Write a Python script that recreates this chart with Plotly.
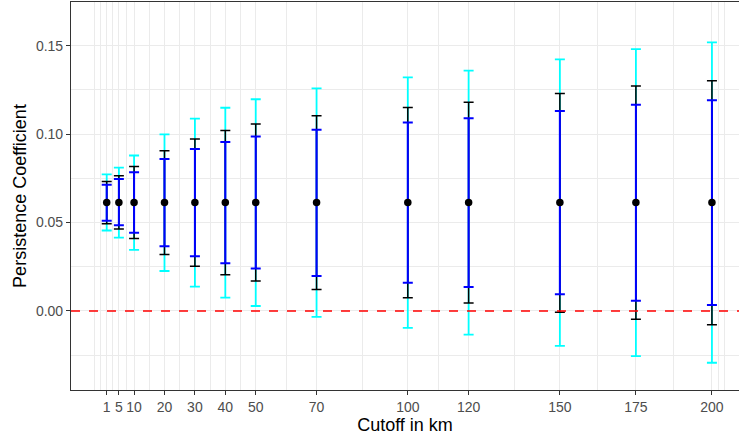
import plotly.graph_objects as go

cutoff_km = [1, 5, 10, 20, 30, 40, 50, 70, 100, 120, 150, 175, 200]
tick_labels = ["1", "5", "10", "20", "30", "40", "50", "70", "100", "120", "150", "175", "200"]
estimate = [0.0613, 0.0613, 0.0613, 0.0613, 0.0613, 0.0613, 0.0613,
            0.0613, 0.0613, 0.0613, 0.0613, 0.0613, 0.0613]

ci99_lo = [0.0455, 0.0415, 0.0345, 0.0226, 0.0138, 0.0075, 0.0028, -0.0034, -0.0096, -0.0134, -0.0198, -0.0255, -0.0293]
ci99_hi = [0.0772, 0.0810, 0.0879, 0.0998, 0.1087, 0.1149, 0.1197, 0.1259, 0.1321, 0.1359, 0.1423, 0.1480, 0.1519]
ci95_lo = [0.0493, 0.0463, 0.0409, 0.0319, 0.0253, 0.0204, 0.0170, 0.0121, 0.0074, 0.0045, -0.0007, -0.0047, -0.0078]
ci95_hi = [0.0732, 0.0764, 0.0817, 0.0906, 0.0972, 0.1021, 0.1057, 0.1104, 0.1151, 0.1180, 0.1229, 0.1272, 0.1302]
ci90_lo = [0.0510, 0.0485, 0.0442, 0.0366, 0.0310, 0.0270, 0.0240, 0.0198, 0.0160, 0.0136, 0.0095, 0.0058, 0.0034]
ci90_hi = [0.0713, 0.0746, 0.0785, 0.0859, 0.0916, 0.0955, 0.0987, 0.1025, 0.1065, 0.1089, 0.1131, 0.1166, 0.1191]

x_minor = [-3, -1, 3, 7.5, 15, 25, 35, 45, 60, 85, 110, 135, 162.5, 187.5, 202, 204]
y_major = [0.00, 0.05, 0.10, 0.15]
y_labels = ["0.00", "0.05", "0.10", "0.15"]
y_minor = [-0.025, 0.025, 0.075, 0.125]
reference_level = 0.0

fig = go.Figure()


def add_ci(lo, hi, color, width):
    fig.add_trace(go.Scatter(
        x=cutoff_km, y=estimate, mode="markers",
        marker=dict(size=1, opacity=0),
        error_y=dict(type="data", symmetric=False,
                     array=[h - e for h, e in zip(hi, estimate)],
                     arrayminus=[e - l for l, e in zip(lo, estimate)],
                     color=color, thickness=width, width=5),
        showlegend=False, hoverinfo="skip"))


add_ci(ci99_lo, ci99_hi, "#00FFFF", 1.8)
add_ci(ci95_lo, ci95_hi, "#000000", 1.5)
add_ci(ci90_lo, ci90_hi, "#0000FF", 2.0)

fig.add_trace(go.Scatter(
    x=cutoff_km, y=estimate, mode="markers",
    marker=dict(size=7.5, color="black"), showlegend=False))

fig.add_shape(type="line", xref="paper", x0=0, x1=1, yref="y",
              y0=reference_level, y1=reference_level,
              line=dict(color="red", width=1.6, dash="dash"), layer="above")

font = "Liberation Sans, Arial, sans-serif"
fig.update_layout(
    width=739, height=436,
    margin=dict(l=71, r=0, t=2, b=46),
    paper_bgcolor="white", plot_bgcolor="white",
    font=dict(family=font),
    xaxis=dict(
        range=[-10.74, 208.9], tickmode="array", tickvals=cutoff_km, ticktext=tick_labels,
        showgrid=True, gridcolor="#EBEBEB", gridwidth=1.1,
        minor=dict(tickmode="array", tickvals=x_minor, showgrid=True,
                   gridcolor="#EBEBEB", gridwidth=0.6, ticks=""),
        zeroline=False, showline=True, linecolor="#333333", linewidth=1.1, mirror=True,
        ticks="outside", ticklen=4, tickcolor="#333333", tickwidth=1.1,
        tickfont=dict(size=14, color="#4D4D4D", family=font),
        title=dict(text="Cutoff in km", font=dict(size=18, color="black", family=font), standoff=4),
    ),
    yaxis=dict(
        range=[-0.0447, 0.1747], tickmode="array", tickvals=y_major, ticktext=y_labels,
        showgrid=True, gridcolor="#EBEBEB", gridwidth=1.1,
        minor=dict(tickmode="array", tickvals=y_minor, showgrid=True,
                   gridcolor="#EBEBEB", gridwidth=0.6, ticks=""),
        zeroline=False, showline=True, linecolor="#333333", linewidth=1.1, mirror=False,
        ticks="outside", ticklen=4, tickcolor="#333333", tickwidth=1.1,
        tickfont=dict(size=14, color="#4D4D4D", family=font),
        title=dict(text="Persistence Coefficient", font=dict(size=18, color="black", family=font), standoff=4),
    ),
)

fig.write_html("out.html")
